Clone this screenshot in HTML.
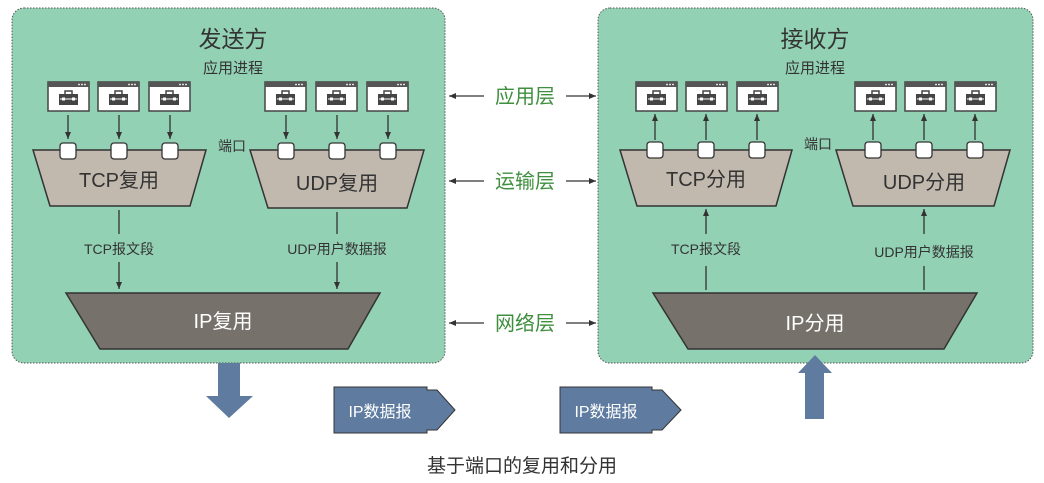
<!DOCTYPE html>
<html><head><meta charset="utf-8"><style>
html,body{margin:0;padding:0;background:#fff;width:1044px;height:483px;overflow:hidden}
svg{display:block}
text{font-family:"Liberation Sans","Noto Sans CJK SC",sans-serif}
</style></head><body>
<svg width="1044" height="483" viewBox="0 0 1044 483" xmlns="http://www.w3.org/2000/svg">
<defs>
<g id="ic">
<rect x="0" y="0" width="41" height="29" fill="#fff" stroke="#444" stroke-width="1.5"/>
<rect x="0" y="0" width="41" height="5" fill="#555"/>
<circle cx="31" cy="2.5" r="0.9" fill="#fff"/><circle cx="34" cy="2.5" r="0.9" fill="#fff"/><circle cx="37" cy="2.5" r="0.9" fill="#fff"/>
<rect x="11" y="12" width="19" height="11" fill="#444"/>
<rect x="17" y="9" width="7" height="4" fill="none" stroke="#444" stroke-width="1.5"/>
<line x1="12" y1="17" x2="29" y2="17" stroke="#fff" stroke-width="1"/>
<rect x="14" y="15.5" width="3" height="3" fill="#fff"/><rect x="24" y="15.5" width="3" height="3" fill="#fff"/>
</g>
<g id="pt"><rect x="-8" y="-8" width="16" height="16" rx="3" fill="#fff" stroke="#333" stroke-width="1.3"/></g>
<marker id="ah" markerWidth="8" markerHeight="8" refX="7" refY="4" orient="auto" markerUnits="userSpaceOnUse"><path d="M0,1 L7,4 L0,7z" fill="#333"/></marker>
</defs>

<!-- containers -->
<rect x="12" y="8" width="433" height="355" rx="12" fill="#93d1b4" stroke="#555" stroke-width="1" stroke-dasharray="1.5,1.5"/>
<rect x="598" y="8" width="435" height="355" rx="12" fill="#93d1b4" stroke="#555" stroke-width="1" stroke-dasharray="1.5,1.5"/>

<!-- LEFT -->
<text x="233" y="47" font-size="23" text-anchor="middle" fill="#333">发送方</text>
<text x="233" y="73" font-size="15" text-anchor="middle" fill="#333">应用进程</text>
<use href="#ic" x="48" y="82"/><use href="#ic" x="98" y="82"/><use href="#ic" x="149" y="82"/>
<use href="#ic" x="265" y="82"/><use href="#ic" x="316" y="82"/><use href="#ic" x="367" y="82"/>
<g stroke="#333" stroke-width="1.3" marker-end="url(#ah)">
<line x1="68" y1="115" x2="68" y2="139"/><line x1="119" y1="115" x2="119" y2="139"/><line x1="170" y1="115" x2="170" y2="139"/>
<line x1="286" y1="115" x2="286" y2="139"/><line x1="337" y1="115" x2="337" y2="139"/><line x1="388" y1="115" x2="388" y2="139"/>
</g>
<polygon points="33,150 206,150 190,206 50,206" fill="#c1b8ae" stroke="#333" stroke-width="1.5"/>
<polygon points="250,150 424,150 407,208 268,208" fill="#c1b8ae" stroke="#333" stroke-width="1.5"/>
<use href="#pt" x="68" y="151"/><use href="#pt" x="119" y="151"/><use href="#pt" x="170" y="151"/>
<use href="#pt" x="286" y="151"/><use href="#pt" x="337" y="151"/><use href="#pt" x="388" y="151"/>
<text x="232" y="151" font-size="14" text-anchor="middle" fill="#333">端口</text>
<text x="119" y="187" font-size="20" text-anchor="middle" fill="#333">TCP复用</text>
<text x="337" y="190" font-size="20" text-anchor="middle" fill="#333">UDP复用</text>
<g stroke="#333" stroke-width="1.3">
<line x1="119" y1="210" x2="119" y2="234"/><line x1="337" y1="212" x2="337" y2="234"/>
<line x1="119" y1="262" x2="119" y2="289" marker-end="url(#ah)"/><line x1="337" y1="262" x2="337" y2="289" marker-end="url(#ah)"/>
</g>
<text x="119" y="254" font-size="14" text-anchor="middle" fill="#333">TCP报文段</text>
<text x="337" y="254" font-size="14" text-anchor="middle" fill="#333">UDP用户数据报</text>
<polygon points="66,293 380,293 348,349 100,349" fill="#76716b" stroke="#333" stroke-width="1.5"/>
<text x="223" y="328" font-size="20" text-anchor="middle" fill="#fff">IP复用</text>
<polygon points="218,363 240,363 240,396 253,396 229,418 206,396 218,396" fill="#5f7ca0"/>

<!-- middle -->
<text x="525" y="103" font-size="20" text-anchor="middle" fill="#3f8f3f">应用层</text>
<text x="525" y="188" font-size="20" text-anchor="middle" fill="#3f8f3f">运输层</text>
<text x="525" y="330" font-size="20" text-anchor="middle" fill="#3f8f3f">网络层</text>
<g stroke="#333" stroke-width="1.3" marker-end="url(#ah)">
<line x1="484" y1="96" x2="449" y2="96"/><line x1="566" y1="96" x2="596" y2="96"/>
<line x1="484" y1="181" x2="449" y2="181"/><line x1="566" y1="181" x2="596" y2="181"/>
<line x1="484" y1="323" x2="449" y2="323"/><line x1="566" y1="323" x2="596" y2="323"/>
</g>
<polygon points="334,387 427,387 427,390 437,390 455,410 437,430 427,430 427,433 334,433" fill="#5f7ca0" stroke="#333" stroke-width="1"/>
<text x="380" y="417" font-size="16" text-anchor="middle" fill="#fff">IP数据报</text>
<polygon points="560,387 652,387 652,390 662,390 681,410 662,430 652,430 652,433 560,433" fill="#5f7ca0" stroke="#333" stroke-width="1"/>
<text x="606" y="417" font-size="16" text-anchor="middle" fill="#fff">IP数据报</text>

<!-- RIGHT -->
<text x="815" y="47" font-size="23" text-anchor="middle" fill="#333">接收方</text>
<text x="815" y="73" font-size="15" text-anchor="middle" fill="#333">应用进程</text>
<use href="#ic" x="636" y="82"/><use href="#ic" x="686" y="82"/><use href="#ic" x="737" y="82"/>
<use href="#ic" x="855" y="82"/><use href="#ic" x="905" y="82"/><use href="#ic" x="955" y="82"/>
<g stroke="#333" stroke-width="1.3" marker-end="url(#ah)">
<line x1="655" y1="140" x2="655" y2="114"/><line x1="706" y1="140" x2="706" y2="114"/><line x1="757" y1="140" x2="757" y2="114"/>
<line x1="873" y1="140" x2="873" y2="114"/><line x1="924" y1="140" x2="924" y2="114"/><line x1="975" y1="140" x2="975" y2="114"/>
</g>
<polygon points="620,150 792,150 776,206 637,206" fill="#c1b8ae" stroke="#333" stroke-width="1.5"/>
<polygon points="836,150 1010,150 994,206 853,206" fill="#c1b8ae" stroke="#333" stroke-width="1.5"/>
<use href="#pt" x="655" y="150"/><use href="#pt" x="706" y="150"/><use href="#pt" x="757" y="150"/>
<use href="#pt" x="873" y="150"/><use href="#pt" x="924" y="150"/><use href="#pt" x="975" y="150"/>
<text x="818" y="149" font-size="14" text-anchor="middle" fill="#333">端口</text>
<text x="706" y="186" font-size="20" text-anchor="middle" fill="#333">TCP分用</text>
<text x="924" y="189" font-size="20" text-anchor="middle" fill="#333">UDP分用</text>
<g stroke="#333" stroke-width="1.3">
<line x1="706" y1="234" x2="706" y2="209" marker-end="url(#ah)"/><line x1="924" y1="234" x2="924" y2="209" marker-end="url(#ah)"/>
<line x1="706" y1="266" x2="706" y2="290"/><line x1="924" y1="266" x2="924" y2="290"/>
</g>
<text x="706" y="254" font-size="14" text-anchor="middle" fill="#333">TCP报文段</text>
<text x="924" y="257" font-size="14" text-anchor="middle" fill="#333">UDP用户数据报</text>
<polygon points="653,293 977,293 944,349 688,349" fill="#76716b" stroke="#333" stroke-width="1.5"/>
<text x="815" y="330" font-size="20" text-anchor="middle" fill="#fff">IP分用</text>
<polygon points="815,355 832,373 824,373 824,419 805,419 805,373 798,373" fill="#5f7ca0"/>

<text x="522" y="472" font-size="19" text-anchor="middle" fill="#333">基于端口的复用和分用</text>
</svg>
</body></html>
